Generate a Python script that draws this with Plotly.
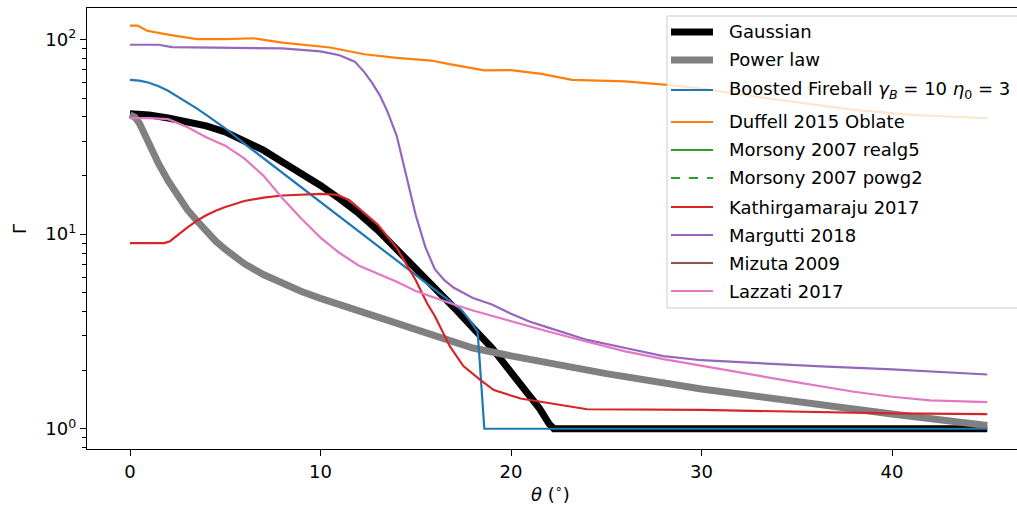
import plotly.graph_objects as go

# ---------------- data ----------------
theta_gauss = [0, 1, 2, 3, 4, 5, 6, 7, 8, 9, 10, 11, 12, 13, 14, 15, 16, 17, 18, 18.5, 19, 19.5, 20, 20.5, 21,
               21.5, 22, 22.25, 45]
gamma_gauss = [41.5, 41, 39.5, 38, 36, 33.5, 30, 27, 23.5, 20.5, 17.8, 15.2, 12.8, 10.5, 8.4, 6.7, 5.3, 4.2, 3.3,
               2.95, 2.6, 2.25, 1.95, 1.72, 1.5, 1.27, 1.06, 1.0, 1.0]

theta_pow = [0, 0.25, 0.5, 0.75, 1, 1.5, 2, 2.5, 3, 3.5, 4, 4.5, 5, 6, 7, 8, 9, 10, 12, 14, 15, 16, 18, 20, 22, 25,
             30, 35, 40, 45]
gamma_pow = [41, 40, 37, 32.5, 28.5, 23, 18.8, 15.7, 13.4, 11.75, 10.35, 9.2, 8.35, 7.05, 6.2, 5.56, 5.07, 4.68,
             4.06, 3.5, 3.25, 3.0, 2.6, 2.37, 2.17, 1.92, 1.6, 1.37, 1.19, 1.04]

theta_bf = [0, 0.5, 1, 1.5, 2, 2.5, 3, 3.5, 4, 5, 6, 8, 10, 12, 14, 16, 17, 17.4, 17.8, 18.1, 18.25, 18.6, 45]
gamma_bf = [62, 61.5, 60, 57.5, 54.5, 51, 47.5, 44.3, 41, 35, 29.2, 20.7, 14.6, 10.4, 7.3, 5.2, 4.4, 4.07, 3.65,
            3.3, 3.15, 1.0, 1.0]

theta_duf = [0, 0.4, 0.9, 2, 3.5, 5, 6.5, 8, 10.5, 12.3, 14, 15.8, 16.7, 18.6, 20, 21.6, 23.2, 26, 28.2, 30, 33.7,
             36, 38, 41, 45]
gamma_duf = [118, 118, 111, 106, 100.5, 100.5, 101.5, 96.5, 91, 84, 80.5, 78, 75, 69.5, 69.7, 66.6, 62, 61, 58.5,
             56, 49.5, 46, 43.5, 41, 39.4]

theta_realg5 = []
gamma_realg5 = []
theta_powg2 = []
gamma_powg2 = []

theta_kat = [0, 1.8, 2.1, 2.5, 3, 3.5, 4, 4.5, 5, 6, 7, 8, 9, 10, 10.9, 11.5, 12, 13, 14, 14.6, 15, 15.6, 16, 16.8,
             17.5, 18.4, 19.1, 20.5, 22, 24, 30, 35, 40, 45]
gamma_kat = [9, 9, 9.2, 9.9, 10.8, 11.7, 12.5, 13.2, 13.8, 14.8, 15.4, 15.8, 16, 16.1, 15.9, 15.0, 13.6, 11.2, 8.5,
             6.8, 5.8, 4.4, 3.8, 2.64, 2.1, 1.78, 1.58, 1.43, 1.35, 1.26, 1.25, 1.22, 1.2, 1.19]

theta_mar = [0, 1.5, 2.2, 5, 8, 10, 11, 11.8, 12.3, 12.7, 13.1, 13.5, 14, 14.5, 15, 15.5, 16, 16.5, 17, 18, 19, 20,
             21, 22, 24, 26, 28, 30, 33, 36, 40, 45]
gamma_mar = [94, 94, 91.5, 91, 90, 87, 83, 77, 68, 60, 52, 43, 32, 20, 12.5, 8.6, 6.6, 5.8, 5.3, 4.7, 4.35, 3.9,
             3.55, 3.3, 2.86, 2.6, 2.36, 2.25, 2.17, 2.1, 2.02, 1.9]

theta_miz = []
gamma_miz = []

theta_laz = [0, 1, 2, 3, 4, 5, 6, 7, 8, 9, 10, 11, 12, 13, 14, 15, 16, 17, 18, 19, 20, 22, 24, 26, 28, 30, 32, 34,
             36, 38, 40, 42, 45]
gamma_laz = [39.5, 39.5, 39, 35.5, 31.5, 28.5, 24.5, 20, 15.3, 12, 9.6, 8, 6.9, 6.3, 5.7, 5.1, 4.7, 4.35, 4.05,
             3.8, 3.55, 3.15, 2.8, 2.5, 2.28, 2.1, 1.95, 1.8, 1.67, 1.55, 1.46, 1.4, 1.37]

x_ticks = [0, 10, 20, 30, 40]
y_ticks = [1, 10, 100]
y_ticktext = ["10<sup>0</sup>", "10<sup>1</sup>", "10<sup>2</sup>"]
y_minor = [0.8, 0.9, 2, 3, 4, 5, 6, 7, 8, 9, 20, 30, 40, 50, 60, 70, 80, 90]

# ---------------- series definitions ----------------
FONT = "DejaVu Sans"
FS = 18
series = [
    ("Gaussian", theta_gauss, gamma_gauss, "#000000", 7, "solid"),
    ("Power law", theta_pow, gamma_pow, "#808080", 7, "solid"),
    ("Boosted Fireball <i>γ</i><sub><i>B</i></sub> = 10 <i>η</i><sub>0</sub> = 3", theta_bf, gamma_bf, "#1f77b4", 2.2, "solid"),
    ("Duffell 2015 Oblate", theta_duf, gamma_duf, "#ff7f0e", 2.2, "solid"),
    ("Morsony 2007 realg5", theta_realg5, gamma_realg5, "#2ca02c", 2.2, "solid"),
    ("Morsony 2007 powg2", theta_powg2, gamma_powg2, "#2ca02c", 2.2, "dash"),
    ("Kathirgamaraju 2017", theta_kat, gamma_kat, "#d62728", 2.2, "solid"),
    ("Margutti 2018", theta_mar, gamma_mar, "#9467bd", 2.2, "solid"),
    ("Mizuta 2009", theta_miz, gamma_miz, "#8c564b", 2.2, "solid"),
    ("Lazzati 2017", theta_laz, gamma_laz, "#e377c2", 2.2, "solid"),
]

fig = go.Figure()
for name, xs, ys, col, w, dash in series:
    fig.add_trace(go.Scatter(x=xs, y=ys, mode="lines", name=name, showlegend=False,
                             line=dict(color=col, width=w, dash=dash)))

# ---------------- layout geometry (pixels) ----------------
W, H = 1017, 512
L, R, T, B = 87, 0, 8, 63
PW = W - L - R
PH = H - T - B


def px(xp):
    return (xp - L) / PW


def py(yp):
    return (H - B - yp) / PH


shapes = []
annotations = []

# custom legend (matplotlib style)
shapes.append(dict(type="rect", xref="paper", yref="paper", layer="above",
                   x0=px(667), x1=px(1060), y0=py(308), y1=py(16),
                   fillcolor="rgba(255,255,255,0.8)", line=dict(color="#cccccc", width=1)))
row_y = [32, 60, 90, 122, 150, 178, 207, 235, 263, 291]
for (name, xs, ys, col, w, dash), ry in zip(series, row_y):
    shapes.append(dict(type="line", xref="paper", yref="paper", layer="above",
                       x0=px(671), x1=px(713), y0=py(ry), y1=py(ry),
                       line=dict(color=col, width=w, dash=dash)))
    annotations.append(dict(text=name, xref="paper", yref="paper", x=px(727), y=py(ry),
                            xanchor="left", yanchor="middle", showarrow=False,
                            font=dict(family=FONT, size=FS, color="black")))

# axis titles
annotations.append(dict(text="<i>θ</i> (<sup>∘</sup>)", xref="paper", yref="paper", x=px(550), y=py(493),
                        xanchor="center", yanchor="middle", showarrow=False,
                        font=dict(family=FONT, size=FS, color="black")))
annotations.append(dict(text="Γ", xref="paper", yref="paper", x=px(20), y=py(229), textangle=-90,
                        xanchor="center", yanchor="middle", showarrow=False,
                        font=dict(family=FONT, size=FS, color="black")))

fig.update_layout(
    width=W, height=H,
    margin=dict(l=L, r=R, t=T, b=B, pad=0),
    paper_bgcolor="white", plot_bgcolor="white",
    font=dict(family=FONT, size=FS, color="black"),
    showlegend=False,
    shapes=shapes, annotations=annotations,
    xaxis=dict(range=[-2.257, 46.56], tickvals=x_ticks, ticks="outside", ticklen=6, tickwidth=1.3,
               tickcolor="black", showline=True, linecolor="black", linewidth=1.3, mirror=True,
               showgrid=False, zeroline=False, tickfont=dict(family=FONT, size=FS, color="black")),
    yaxis=dict(type="log", range=[-0.104, 2.162], tickvals=y_ticks, ticktext=y_ticktext,
               ticks="outside", ticklen=6, tickwidth=1.3, tickcolor="black",
               showline=True, linecolor="black", linewidth=1.3, mirror=False,
               showgrid=False, zeroline=False, tickfont=dict(family=FONT, size=FS, color="black"),
               minor=dict(tickmode="array", tickvals=y_minor, ticks="outside", ticklen=3.5,
                          tickwidth=1, tickcolor="black", showgrid=False)),
)

fig.write_html("out.html")
